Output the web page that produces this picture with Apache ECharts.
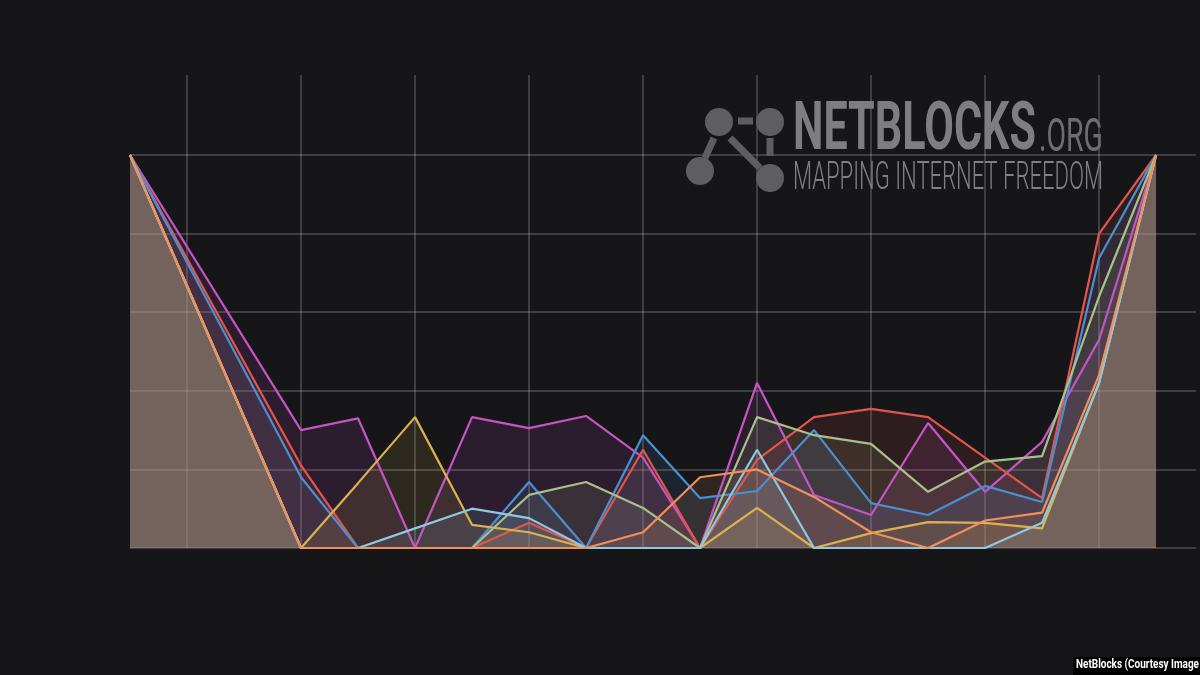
<!DOCTYPE html>
<html>
<head>
<meta charset="utf-8">
<script src="https://cdn.jsdelivr.net/npm/echarts@6/dist/echarts.min.js"></script>
<style>
html,body{margin:0;padding:0;background:#161618;}
#chart{width:1200px;height:675px;}
</style>
</head>
<body>
<div id="chart"></div>
<script>
// 19 time steps along the x axis (indices); null = no sample at that step
const steps = ['0','1','2','3','4','5','6','7','8','9','10','11','12','13','14','15','16','17','18'];
const magenta   = [100, null, null, 30, 33, 0, 33.3, 30.5, 33.6, 23, 0, 42, 13.5, 8.4, 31.8, 14.3, 27, 53, 100];
const red       = [100, null, null, 21, 0, 0, 0, 6.4, 0, 25, 0, 22.4, 33.3, 35.4, 33.3, 23, 12.7, 80, 100];
const blue      = [100, null, null, 18, 0, 0, 0, 16.8, 0, 28.7, 12.7, 14.5, 30, 11.4, 8.4, 15.8, 11.7, 73.8, 100];
const green     = [100, null, null, 0, 0, 0, 0, 13.5, 16.8, 10.2, 0, 33.3, 28.7, 26.5, 14.3, 22, 23.4, 64, 100];
const yellow    = [100, null, null, 0, 16.5, 33.3, 5.9, 4, 0, 0, 0, 10.2, 0, 3.8, 6.6, 6.4, 5, 42, 100];
const lightblue = [100, null, null, 0, 0, 5, 10, 7.6, 0, 0, 0, 25, 0, 0, 0, 0, 6.4, 42, 100];
const orange    = [100, null, null, 0, 0, 0, 0, 0, 0, 4, 18, 20, 13, 4, 0, 7, 9, 44, 100];
const yTicks = [0, 20, 40, 60, 80, 100];

const seriesDefs = [
  {name: 'magenta',   data: magenta,   color: '#c455c4'},
  {name: 'red',       data: red,       color: '#e2554c'},
  {name: 'blue',      data: blue,      color: '#4b8fd3'},
  {name: 'green',     data: green,     color: '#a9c08a'},
  {name: 'yellow',    data: yellow,    color: '#dcb14f'},
  {name: 'lightblue', data: lightblue, color: '#8fc8e2'},
  {name: 'orange',    data: orange,    color: '#f0905c'}
];

// text fitting helper (for condensed watermark/caption typography)
const measureCtx = document.createElement('canvas').getContext('2d');
function fitScale(text, font, target) {
  measureCtx.font = font;
  return target / measureCtx.measureText(text).width;
}
const fBig = 'bold 66px Roboto, "DejaVu Sans", sans-serif';
const fOrg = '46px Roboto, "DejaVu Sans", sans-serif';
const fSub = '300 39px Roboto, "DejaVu Sans", sans-serif';
const fCap = 'bold 12px Roboto, "DejaVu Sans", sans-serif';

const chart = echarts.init(document.getElementById('chart'));
chart.setOption({
  backgroundColor: '#161618',
  animation: false,
  grid: [
    {left: 130, top: 155, width: 1066, height: 393},
    {left: 130, top: 75, width: 1026, height: 473}
  ],
  xAxis: [
    {type: 'value', gridIndex: 0, min: 0, max: 18.7, show: false, splitLine: {show: false}},
    {type: 'category', gridIndex: 1, data: steps, boundaryGap: false,
     axisLine: {show: false}, axisTick: {show: false}, axisLabel: {show: false},
     splitLine: {show: true, interval: function (i) { return i % 2 === 1; },
                 lineStyle: {color: 'rgba(255,255,255,0.24)', width: 1.5}}}
  ],
  yAxis: [
    {type: 'value', gridIndex: 0, min: yTicks[0], max: yTicks[yTicks.length - 1], interval: 20,
     axisLine: {show: false}, axisTick: {show: false}, axisLabel: {show: false},
     splitLine: {lineStyle: {color: 'rgba(255,255,255,0.24)', width: 1.5}}},
    {type: 'value', gridIndex: 1, show: false, splitLine: {show: false}}
  ],
  series: seriesDefs.map(function (s) {
    return {
      name: s.name, type: 'line', xAxisIndex: 0, yAxisIndex: 0,
      data: s.data.map(function (v, i) { return [i, v]; }).filter(function (p) { return p[1] !== null; }),
      symbol: 'none',
      lineStyle: {color: s.color, width: 2.2},
      itemStyle: {color: s.color},
      areaStyle: {color: s.color, opacity: 0.12},
      z: 3
    };
  }),
  graphic: [
    // watermark logo
    {type: 'line', shape: {x1: 738, y1: 121, x2: 753, y2: 121}, style: {stroke: '#5e5e60', lineWidth: 7}, z: 1},
    {type: 'line', shape: {x1: 714, y1: 138, x2: 705, y2: 158}, style: {stroke: '#5e5e60', lineWidth: 7}, z: 1},
    {type: 'line', shape: {x1: 730, y1: 138, x2: 760, y2: 168}, style: {stroke: '#5e5e60', lineWidth: 7}, z: 1},
    {type: 'line', shape: {x1: 770, y1: 138, x2: 770, y2: 156}, style: {stroke: '#5e5e60', lineWidth: 7}, z: 1},
    {type: 'circle', shape: {cx: 719, cy: 122, r: 14}, style: {fill: '#5e5e60'}, z: 1},
    {type: 'circle', shape: {cx: 770, cy: 122, r: 14}, style: {fill: '#5e5e60'}, z: 1},
    {type: 'circle', shape: {cx: 700, cy: 171, r: 14}, style: {fill: '#5e5e60'}, z: 1},
    {type: 'circle', shape: {cx: 770, cy: 178, r: 14}, style: {fill: '#5e5e60'}, z: 1},
    {type: 'text', x: 793, y: 99, scaleX: fitScale('NETBLOCKS', fBig, 243), z: 1,
     style: {text: 'NETBLOCKS', fill: '#7e7e81', font: fBig}},
    {type: 'text', x: 1039, y: 116, scaleX: fitScale('.ORG', fOrg, 64), z: 1,
     style: {text: '.ORG', fill: '#6e6e71', font: fOrg}},
    {type: 'text', x: 793, y: 160, scaleX: fitScale('MAPPING INTERNET FREEDOM', fSub, 310), z: 1,
     style: {text: 'MAPPING INTERNET FREEDOM', fill: '#808083', font: fSub}},
    // caption
    {type: 'rect', shape: {x: 1073, y: 657, width: 127, height: 18}, style: {fill: '#000000'}, z: 5},
    {type: 'text', x: 1076, y: 659, scaleX: fitScale('NetBlocks (Courtesy Image', fCap, 123), z: 6,
     style: {text: 'NetBlocks (Courtesy Image', fill: '#ffffff', font: fCap}}
  ]
});
</script>
</body>
</html>
